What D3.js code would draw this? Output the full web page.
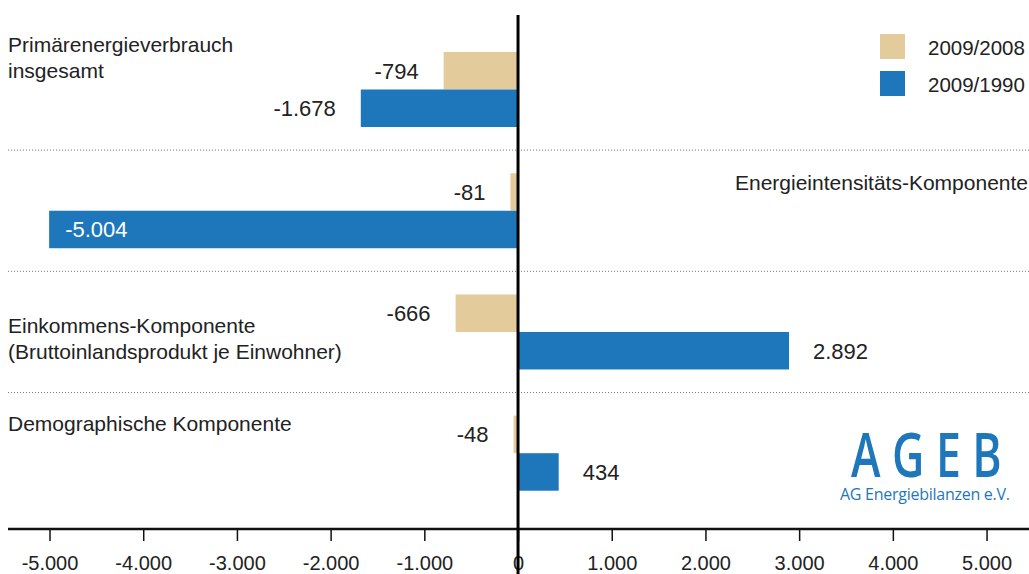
<!DOCTYPE html>
<html>
<head>
  <meta charset="utf-8">
  <title>Komponentenzerlegung Primärenergieverbrauch</title>
  <script src="https://d3js.org/d3.v7.min.js"></script>
  <style>
    body { margin: 0; background: #fff; }
    text { font-family: "Liberation Sans", Arial, Helvetica, sans-serif; fill: #222; }
  </style>
</head>
<body>
<div id="chart"></div>

<script>
  // data
  var categories = ["Primärenergieverbrauch insgesamt", "Energieintensitäts-Komponente",
                    "Einkommens-Komponente (Bruttoinlandsprodukt je Einwohner)", "Demographische Komponente"];
  var catLines = [["Primärenergieverbrauch", "insgesamt"], ["Energieintensitäts-Komponente"],
                  ["Einkommens-Komponente", "(Bruttoinlandsprodukt je Einwohner)"], ["Demographische Komponente"]];
  var seriesNames = ["2009/2008", "2009/1990"];
  var values0908 = [-794, -81, -666, -48];
  var values0990 = [-1678, -5004, 2892, 434];
  var tickValues = [-5000, -4000, -3000, -2000, -1000, 0, 1000, 2000, 3000, 4000, 5000];

  var colors = ["#e3cb9c", "#1f77bb"];
  var width = 1029, height = 574;

  // german number format, plain hyphen as minus
  var de = d3.formatLocale({decimal: ",", thousands: ".", grouping: [3], currency: ["", " €"], minus: "-"});
  var fmt = de.format(",d");

  var svg = d3.select("#chart")
    .append("svg")
    .attr("width", width)
    .attr("height", height);

  var x = d3.scaleLinear()
    .domain([-5443, 5453])
    .range([8, 1029]);

  var y = d3.scaleBand()
    .domain(categories)
    .range([52, 490.7])
    .paddingInner(0.3814)
    .paddingOuter(0);

  var ySub = d3.scaleBand()
    .domain(seriesNames)
    .range([0, y.bandwidth()])
    .padding(0);

  var rows = categories.map(function(c, i) {
    return {cat: c, lines: catLines[i], vals: [values0908[i], values0990[i]]};
  });

  // dotted separators between the groups
  var gap = y.step() - y.bandwidth();
  svg.selectAll(".sep")
    .data(categories.slice(1))
    .enter()
    .append("line")
      .attr("x1", 8)
      .attr("x2", 1029)
      .attr("y1", function(d) { return y(d) - gap / 2; })
      .attr("y2", function(d) { return y(d) - gap / 2; })
      .attr("stroke", "#777")
      .attr("stroke-width", 1)
      .attr("stroke-dasharray", "1,2");

  // category labels
  var labelDy = [0, 17, 39, 15];
  rows.forEach(function(r, i) {
    var right = i === 1;
    var t = svg.append("text")
      .attr("x", right ? 1028 : 8)
      .attr("y", y(r.cat) + labelDy[i])
      .attr("text-anchor", right ? "end" : "start")
      .style("font-size", "21px");
    r.lines.forEach(function(l, j) {
      t.append("tspan")
        .attr("x", right ? 1028 : 8)
        .attr("dy", j === 0 ? 0 : 26)
        .text(l);
    });
  });

  // bars
  var barData = [];
  rows.forEach(function(r) {
    r.vals.forEach(function(v, k) {
      barData.push({cat: r.cat, series: seriesNames[k], k: k, value: v});
    });
  });

  svg.selectAll(".bar")
    .data(barData)
    .enter()
    .append("rect")
      .attr("x", function(d) { return x(Math.min(0, d.value)); })
      .attr("width", function(d) { return Math.abs(x(d.value) - x(0)); })
      .attr("y", function(d) { return y(d.cat) + ySub(d.series); })
      .attr("height", ySub.bandwidth())
      .attr("fill", function(d) { return colors[d.k]; });

  // value labels
  svg.selectAll(".val")
    .data(barData)
    .enter()
    .append("text")
      .attr("x", function(d) {
        if (d.value < -4000) return x(d.value) + 16;
        return d.value < 0 ? x(d.value) - 25 : x(d.value) + 24;
      })
      .attr("y", function(d) { return y(d.cat) + ySub(d.series) + ySub.bandwidth() / 2 + 8; })
      .attr("text-anchor", function(d) { return (d.value < 0 && d.value > -4000) ? "end" : "start"; })
      .style("font-size", "22px")
      .style("fill", function(d) { return d.value < -4000 ? "#fff" : "#222"; })
      .text(function(d) { return fmt(d.value); });

  // x axis
  var xAxis = svg.append("g")
    .attr("transform", "translate(0,529)")
    .call(d3.axisBottom(x).tickValues(tickValues).tickSize(12).tickPadding(15).tickFormat(fmt));
  xAxis.select(".domain").remove();
  xAxis.selectAll(".tick line").attr("stroke", "#111").attr("stroke-width", 1.5);
  xAxis.selectAll(".tick text")
    .style("font-size", "20px")
    .style("font-family", "'Liberation Sans', Arial, sans-serif")
    .attr("fill", "#222");

  svg.append("line")
    .attr("x1", 8).attr("x2", 1029)
    .attr("y1", 529).attr("y2", 529)
    .attr("stroke", "#111")
    .attr("stroke-width", 2.5);

  // zero line
  svg.append("line")
    .attr("x1", x(0)).attr("x2", x(0))
    .attr("y1", 15).attr("y2", height)
    .attr("stroke", "#000")
    .attr("stroke-width", 3);

  // legend
  var legend = svg.selectAll(".legend")
    .data(seriesNames)
    .enter()
    .append("g")
    .attr("transform", function(d, i) { return "translate(880," + (34 + i * 37) + ")"; });
  legend.append("rect")
    .attr("width", 25).attr("height", 25)
    .attr("fill", function(d, i) { return colors[i]; });
  legend.append("text")
    .attr("x", 48).attr("y", 21)
    .style("font-size", "20.5px")
    .text(function(d) { return d; });

  // AGEB logo
  svg.append("text")
    .attr("transform", "translate(851,477) scale(0.72,1)")
    .style("font-family", "'Open Sans', sans-serif")
    .style("font-weight", 600)
    .style("font-size", "62px")
    .style("letter-spacing", "16px")
    .style("fill", colors[1])
    .text("AGEB");
  svg.append("text")
    .attr("x", 840).attr("y", 500)
    .attr("textLength", 170)
    .style("font-family", "'Open Sans', sans-serif")
    .style("font-size", "16px")
    .style("fill", colors[1])
    .text("AG Energiebilanzen e.V.");
</script>
</body>
</html>
